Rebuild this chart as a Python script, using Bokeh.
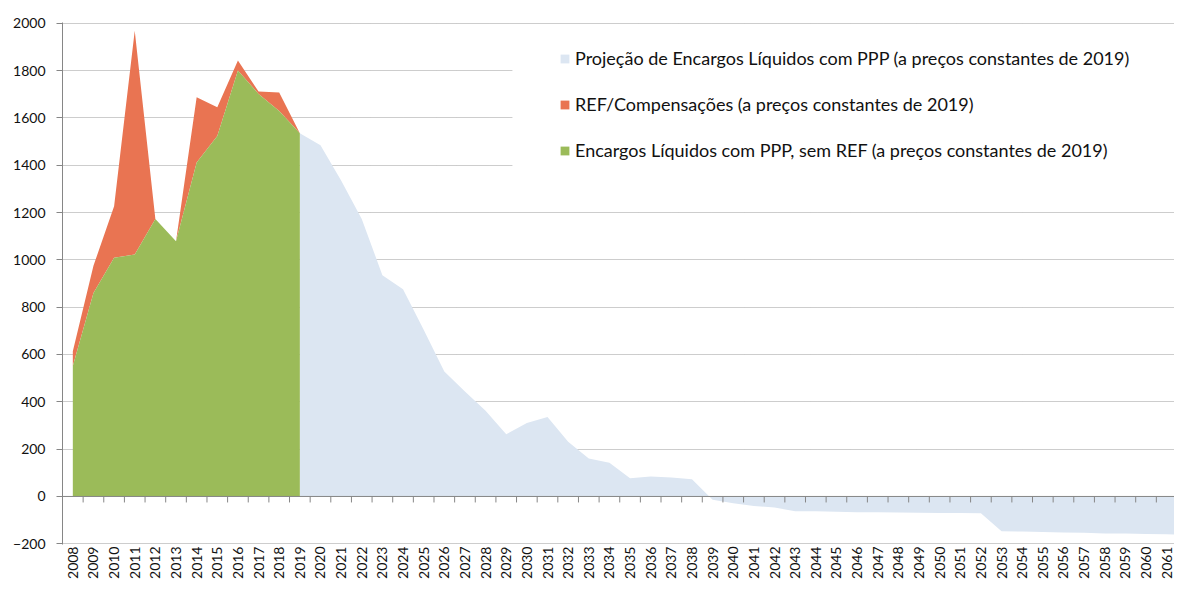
import math
from bokeh.plotting import figure
from bokeh.models import (Range1d, FixedTicker, Legend, LegendItem, Span,
                          BoxAnnotation, Label)
from bokeh.embed import file_html
from bokeh.resources import INLINE

# ---------------- data ----------------
years = [str(y) for y in range(2008, 2063)]

# 2008..2019
encargos_sem_ref = [551, 860, 1009, 1023, 1173, 1079, 1411, 1523, 1800, 1701, 1629, 1535]
ref_compensacoes = [63, 115, 217, 945, 0, 0, 276, 122, 42, 10, 78, 0]

# 2019..2062
projecao = [1535, 1484, 1335, 1173, 935, 876, 705, 528, 444, 362,
            263, 310, 336, 231, 160, 143, 77, 84, 80, 73,
            -14, -29, -40, -47, -62, -63, -65, -67, -67, -68,
            -69, -70, -70, -71, -147, -148, -150, -152, -153, -156,
            -157, -159, -160, -161]

title_text = "(em milhões de euros)"
label_proj = "Projeção de Encargos Líquidos com PPP (a preços constantes de 2019)"
label_ref = "REF/Compensações (a preços constantes de 2019)"
label_enc = "Encargos Líquidos com PPP, sem REF (a preços constantes de 2019)"

y_ticks = list(range(-200, 2001, 200))

# ---------------- derived ----------------
hist_x = list(range(len(encargos_sem_ref)))
total = [a + b for a, b in zip(encargos_sem_ref, ref_compensacoes)]
proj_start = years.index("2019")
proj_x = list(range(proj_start, proj_start + len(projecao)))

BLUE = "#DCE6F2"
ORANGE = "#E97452"
GREEN = "#9BBB59"
AXIS = "#868686"
FONT = "Lato"
X_END = 53.38

p = figure(width=1174, height=581,
           x_range=Range1d(-0.5, X_END), y_range=Range1d(-203, 2003),
           output_backend="svg", toolbar_location=None,
           min_border_left=62, min_border_right=0,
           min_border_top=22, min_border_bottom=35)
p.outline_line_color = None
p.background_fill_color = "white"
p.border_fill_color = "white"

r_blue = p.varea(x=proj_x, y1=0, y2=projecao, fill_color=BLUE)
r_orange = p.varea(x=hist_x, y1=encargos_sem_ref, y2=total, fill_color=ORANGE)
r_green = p.varea(x=hist_x, y1=0, y2=encargos_sem_ref, fill_color=GREEN)

# x axis (labels only, at bottom)
p.xaxis.ticker = FixedTicker(ticks=list(range(len(years))))
p.xaxis.major_label_overrides = {i: y for i, y in enumerate(years)}
p.xaxis.major_label_orientation = math.pi / 2
p.xaxis.axis_line_color = None
p.xaxis.major_tick_line_color = None
p.xaxis.minor_tick_line_color = None
p.xaxis.major_tick_out = 0
p.xaxis.major_tick_in = 0
p.xaxis.minor_tick_out = 0
p.xaxis.minor_tick_in = 0
p.xaxis.major_label_standoff = 2
p.xaxis.major_label_text_font = FONT
p.xaxis.major_label_text_font_size = "14px"
p.xaxis.major_label_text_color = "#111111"
p.xgrid.visible = False

# y axis
p.yaxis.ticker = FixedTicker(ticks=y_ticks)
p.yaxis.axis_line_color = AXIS
p.yaxis.major_tick_line_color = AXIS
p.yaxis.major_tick_out = 6
p.yaxis.major_tick_in = 0
p.yaxis.minor_tick_line_color = None
p.yaxis.major_label_standoff = 11
p.yaxis.major_label_text_font = FONT
p.yaxis.major_label_text_font_size = "14px"
p.yaxis.major_label_text_color = "#111111"
p.ygrid.grid_line_color = "#9A9A9A"
p.ygrid.grid_line_dash = "1 1"
p.ygrid.grid_line_width = 1

# category axis line at zero with tick marks between categories
p.add_layout(Span(location=0, dimension="width", line_color=AXIS, line_width=1))
p.ray(x=[i + 0.5 for i in range(len(years) - 1)], y=0, length=6,
      length_units="screen", angle=-math.pi / 2, line_color=AXIS, line_width=1)

# legend background (hides gridlines behind legend)
p.add_layout(BoxAnnotation(left=21.3, right=X_END, bottom=1270, top=1950,
                           fill_color="white", fill_alpha=1, line_color=None))

legend = Legend(items=[LegendItem(label=label_proj, renderers=[r_blue]),
                       LegendItem(label=label_ref, renderers=[r_orange]),
                       LegendItem(label=label_enc, renderers=[r_green])],
                location=(497, 383), orientation="vertical",
                glyph_width=11, glyph_height=11, label_standoff=5,
                label_text_font=FONT, label_text_font_size="18px",
                label_text_color="#111111", label_height=22,
                spacing=24, padding=0, margin=0,
                border_line_color=None, background_fill_alpha=0)
p.add_layout(legend)

# chart title, cropped at the top edge as in the reference
p.add_layout(Label(x=25.94, y=2077, text=title_text, text_align="center",
                   text_baseline="alphabetic", text_font=FONT,
                   text_font_size="20px", text_color="#111111"))

open("out.html", "w").write(file_html(p, INLINE))
